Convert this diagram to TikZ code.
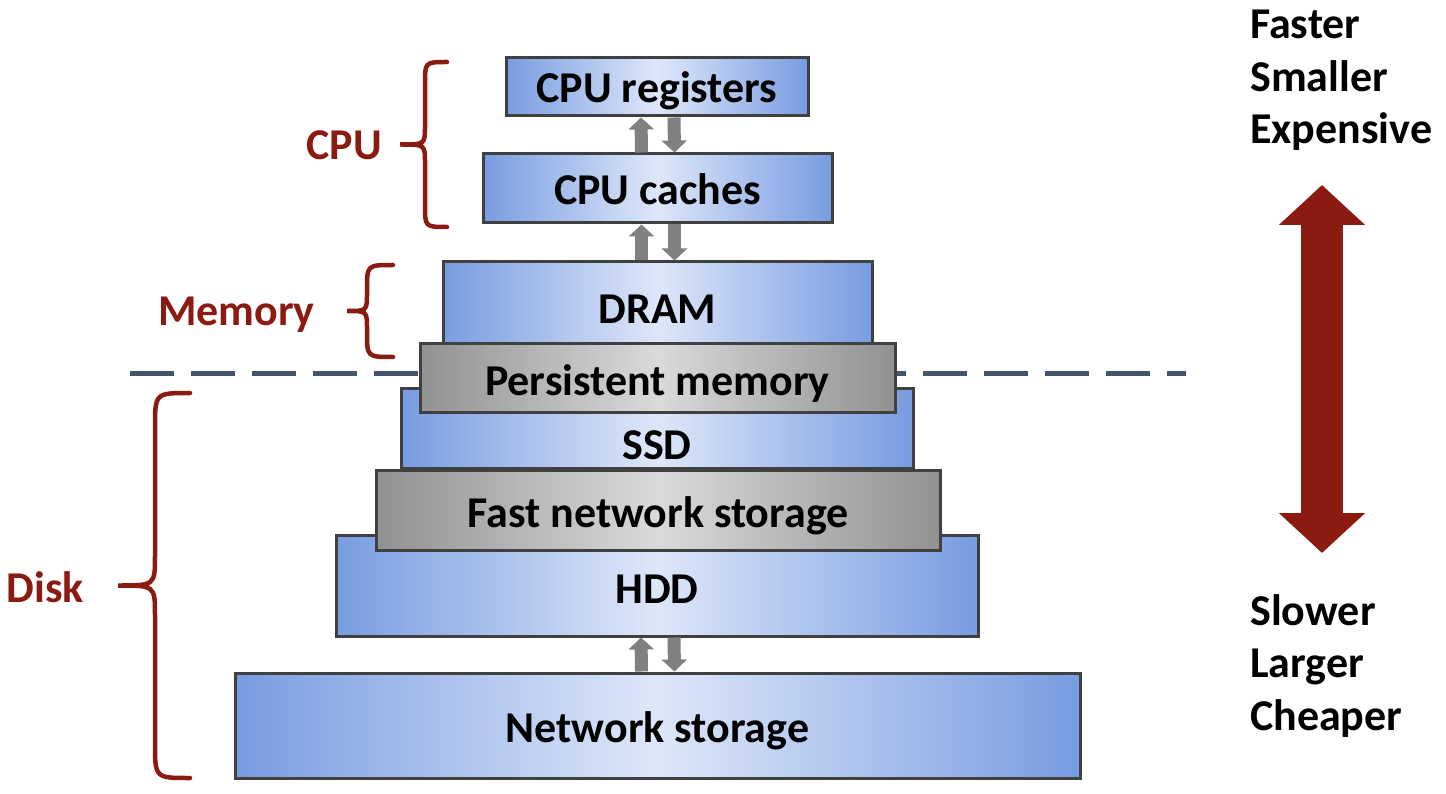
\documentclass[tikz,border=0pt]{standalone}
\usepackage{fontspec}
\setmainfont{Carlito}
\usetikzlibrary{arrows.meta}
\usetikzlibrary{positioning}
\definecolor{darkred}{RGB}{139,26,16}
\definecolor{edgeblue}{RGB}{120,156,225}
\definecolor{midblue}{RGB}{222,231,249}
\definecolor{edgegrey}{RGB}{145,145,145}
\definecolor{midgrey}{RGB}{218,218,218}
\definecolor{bordergrey}{RGB}{64,64,64}
\definecolor{slate}{RGB}{68,84,106}

\begin{document}
\begin{tikzpicture}[
        x=1pt, y=-1pt,
        bluebox/.style={draw=bordergrey, line width=3pt, inner sep=0,
            left color=edgeblue, right color=edgeblue, middle color=midblue},
        greybox/.style={draw=bordergrey, line width=3pt, inner sep=0,
            left color=edgegrey, right color=edgegrey, middle color=midgrey},
        boxtext/.style={font=\fontsize{44}{52}\selectfont\bfseries, inner sep=0},
        sidetext/.style={font=\fontsize{44}{52}\selectfont\bfseries, inner sep=0},
        bracetext/.style={font=\fontsize{44}{52}\selectfont\bfseries, text=darkred, inner sep=0},
        brace/.style={draw=darkred, line width=4.5pt, line cap=round},
        hop/.style={draw=black!50, line width=13pt,
            -{Triangle[width=25pt,length=12pt]}},
        trade/.style={draw=darkred, line width=42pt,
            {Triangle[width=84pt,length=40pt]}-{Triangle[width=84pt,length=40pt]}}
    ]
        \useasboundingbox (0,0) rectangle (1446,794);

        % Trennlinie fluechtig / persistent
        \coordinate (cut-l) at (130,373);
        \coordinate (cut-r) at (1186,373);
        \draw[slate, line width=5pt, dash pattern=on 44pt off 17pt] (cut-l) -- (cut-r);

        % Ebenen: Name/links/oben/rechts/unten/Grundlinie/Stil/Text
        \def\levels{
            dram/443/262/872/358/324/bluebox/DRAM,
            ssd/401/388/913/468/459/bluebox/SSD,
            pmem/420/344/895/412/395/greybox/Persistent memory,
            hdd/336/535/978/636/603/bluebox/HDD,
            fns/376/470/940/550/527/greybox/Fast network storage,
            net/235/673/1080/778/742/bluebox/Network storage,
            regs/506/58/808/116/103/bluebox/CPU registers,
            caches/483/154/832/223/205/bluebox/CPU caches
        }

        % Kaesten zeichnen
        \foreach \nm/\xl/\yt/\xr/\yb/\ty/\sty/\txt in \levels {
            \node[\sty, minimum width={\xr-\xl}, minimum height={\yb-\yt}]
                (\nm) at ({(\xl+\xr)/2}, {(\yt+\yb)/2}) {};
            \node[boxtext, anchor=base] (\nm-text) at ({(\xl+\xr)/2}, \ty) {\txt};
        }

        % Datenfluss zwischen Ebenen
        \foreach \lo/\hi in {caches/regs, dram/caches, net/hdd} {
            \draw[hop] ([xshift=-16pt]\lo.north) -- ([xshift=-16pt]\hi.south);
            \draw[hop] ([xshift=17pt]\hi.south) -- ([xshift=17pt]\lo.north);
        }

        % Klammern: Ende x/Schaft x/Spitze x/oben/unten/Rundung/Spitzenlaenge
        \foreach \xe/\xv/\xt/\ya/\yb/\r/\tl [count=\i] in {
            447/425/400/62/227/22/18,
            393/367/347/265/357/25/18,
            190/155/118/393/778/35/30} {
            \pgfmathsetmacro{\ym}{(\ya+\yb)/2}
            \draw[brace] (\xe,\ya) .. controls (\xv,\ya) .. (\xv,\ya+\r)
                -- (\xv,\ym-\tl) .. controls (\xv,\ym) .. (\xt,\ym)
                .. controls (\xv,\ym) .. (\xv,\ym+\tl)
                -- (\xv,\yb-\r) .. controls (\xv,\yb) .. (\xe,\yb);
            \coordinate (tip-\i) at (\xt,\ym);
        }
        \node[bracetext, anchor=base east] (cpu) at (382,160) {CPU};
        \node[bracetext, anchor=base east] (memory) at (315,326) {Memory};
        \node[bracetext, anchor=base east] (disk) at (84,602) {Disk};

        % Abwaegung oben/unten
        \foreach \w [count=\i] in {Faster,Smaller,Expensive} {
            \node[sidetext, anchor=base west] (up-\i) at (1250, {39+52.5*(\i-1)}) {\w};
        }
        \foreach \w [count=\i] in {Slower,Larger,Cheaper} {
            \node[sidetext, anchor=base west] (down-\i) at (1250, {625+52.5*(\i-1)}) {\w};
        }
        \coordinate (trade-top) at (1322,185);
        \coordinate (trade-bot) at (1322,553);
        \draw[trade] (trade-bot) -- (trade-top);

    \end{tikzpicture}
\end{document}
